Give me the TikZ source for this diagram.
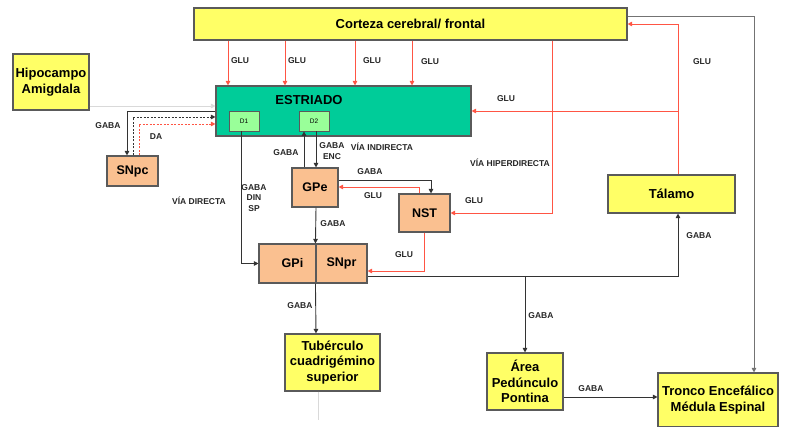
\documentclass[tikz,border=0pt]{standalone}
\usepackage{fontspec}
\setmainfont{Liberation Sans}
\usetikzlibrary{arrows.meta}
\definecolor{yel}{HTML}{FFFF66}
\definecolor{peach}{HTML}{FAC090}
\definecolor{tealbox}{HTML}{00CC99}
\definecolor{lgreen}{HTML}{99FF99}
\definecolor{redl}{HTML}{FF5544}
\definecolor{edge}{HTML}{5A5A5A}
\definecolor{lineblk}{HTML}{333333}
\begin{document}
\begin{tikzpicture}[x=1pt,y=-1pt,
  box/.style={draw=edge, line width=1.1pt, inner sep=0pt, align=center},
  ybox/.style={box, fill=yel, font=\bfseries\fontsize{13}{15.5}\selectfont},
  obox/.style={box, fill=peach, font=\bfseries\fontsize{12.5}{14}\selectfont},
  dbox/.style={box, fill=lgreen, line width=0.8pt, font=\fontsize{6.5}{7}\selectfont, minimum width=30pt, minimum height=20pt},
  lab/.style={font=\bfseries\fontsize{8.5}{10.5}\selectfont, inner sep=0pt, align=center, text=black!85},
  tip/.style={-{Triangle[length=4.5pt,width=4.5pt]}},
  blk/.style={draw=lineblk, line width=0.9pt, tip},
  rarr/.style={draw=redl, line width=0.9pt, tip},
  garr/.style={draw=black!55, line width=0.9pt, tip},
  faint/.style={draw=black!15, line width=0.6pt},
  dsh/.style={dash pattern=on 2pt off 1.5pt}
]
\useasboundingbox (0,0) rectangle (787,427);

% nodes
\node[ybox, minimum width=433pt, minimum height=32pt] (cor) at (410.5,24) {Corteza cerebral/ frontal};
\node[ybox, minimum width=76pt, minimum height=56pt] (hip) at (51,82) {Hipocampo\\Amigdala};
\node[box, fill=tealbox, minimum width=255pt, minimum height=50pt] (est) at (343.5,111) {};
\node[font=\bfseries\fontsize{13}{15}\selectfont, inner sep=0pt] (estl) at (309,100) {ESTRIADO};
\node[dbox] (d1) at (244,121) {D1};
\node[dbox] (d2) at (314,121) {D2};
\node[obox, minimum width=51pt, minimum height=30pt] (snpc) at (132.5,171) {SNpc};
\node[obox, minimum width=46pt, minimum height=39pt] (gpe) at (315,187.5) {GPe};
\node[obox, minimum width=51pt, minimum height=38pt] (nst) at (424.5,213) {NST};
\node[obox, minimum width=57pt, minimum height=39pt, text width=57pt, align=center] (gpi) at (287.5,263.5) {\hspace*{10pt}GPi};
\node[obox, minimum width=51pt, minimum height=39pt] (snpr) at (341.5,263.5) {SNpr};
\node[ybox, minimum width=127pt, minimum height=38pt] (tal) at (671.5,194) {Tálamo};
\node[ybox, minimum width=95pt, minimum height=57pt] (tub) at (332.5,362.5) {Tubérculo\\cuadrigémino\\superior};
\node[ybox, minimum width=76pt, minimum height=57pt] (area) at (525,381.5) {Área\\Pedúnculo\\Pontina};
\node[ybox, minimum width=120pt, minimum height=54pt] (tro) at (718,400) {Tronco Encefálico\\Médula Espinal};

% cortex -> estriado
\foreach \xx in {228,285,355,412} {
  \draw[rarr] (cor.south -| \xx,0) -- (est.north -| \xx,0);
}
% hyperdirect
\draw[rarr] (cor.south -| 552,0) |- (nst.east);
% thalamus -> cortex and estriado
\coordinate (tb) at (678,111);
\draw[rarr] (tal.north -| 678,0) |- (cor.east);
\draw[rarr] (tb) -- (est.east);
% cortex -> tronco
\draw[garr] (cor.east |- 0,16) -| (tro.north -| 754,0);
% hipocampo faint
\draw[faint, tip] (hip.east |- 0,106) -- (est.west |- 0,106);
% estriado <-> SNpc
\draw[blk] (est.west |- 0,111) -| (snpc.north -| 127,0);
\draw[blk, dsh] (snpc.north -| 133,0) |- (est.west |- 0,117);
\draw[rarr, dsh] (snpc.north -| 139,0) |- (est.west |- 0,124);
% direct path
\draw[blk] (d1.south -| 241,0) |- (gpi.west);
% indirect
\draw[blk] (gpe.north -| 304,0) -- (d2.south -| 304,0);
\draw[blk] (d2.south -| 316,0) -- (gpe.north -| 316,0);
\draw[blk] (gpe.east |- 0,180) -| (nst.north -| 431,0);
\draw[rarr] (nst.north -| 419,0) |- (gpe.east |- 0,187);
\draw[blk] (gpe.south -| 316,0) -- (snpr.north west);
\draw[rarr] (nst.south -| 424,0) |- (snpr.east |- 0,271);
% outputs
\coordinate (ap) at (525,276);
\draw[blk] (snpr.east |- 0,276) -| (tal.south -| 678,0);
\draw[blk] (ap) -- (area.north);
\draw[blk] (snpr.south west) -- (tub.north -| 316,0);
\draw[blk] (area.east |- 0,397) -- (tro.west |- 0,397);
\coordinate (tubf) at (318,420);
\draw[faint] (tub.south -| 318,0) -- (tubf);

% labels
\node[lab] (l1) at (240,61) {GLU};
\node[lab] (l2) at (297,61) {GLU};
\node[lab] (l3) at (372,61) {GLU};
\node[lab] (l4) at (430,62) {GLU};
\node[lab] (l5) at (702,62) {GLU};
\node[lab] (l6) at (506,99) {GLU};
\node[lab] (l7) at (510,163) {VÍA HIPERDIRECTA};
\node[lab] (l8) at (474,201) {GLU};
\node[lab] (l9) at (108,126) {GABA};
\node[lab] (l10) at (156,137) {DA};
\node[lab] (l11) at (199,201) {VÍA DIRECTA};
\node[lab] (l12) at (254,198) {GABA\\DIN\\SP};
\node[lab] (l13) at (286,153) {GABA};
\node[lab] (l14) at (332,151) {GABA\\ENC};
\node[lab] (l15) at (382,147) {VÍA INDIRECTA};
\node[lab] (l16) at (370,172) {GABA};
\node[lab] (l17) at (373,196) {GLU};
\node[lab] (l18) at (333,224) {GABA};
\node[lab] (l19) at (404,255) {GLU};
\node[lab] (l20) at (300,306) {GABA};
\node[lab] (l21) at (699,236) {GABA};
\node[lab] (l22) at (541,316) {GABA};
\node[lab] (l23) at (591,389) {GABA};
\end{tikzpicture}
\end{document}
